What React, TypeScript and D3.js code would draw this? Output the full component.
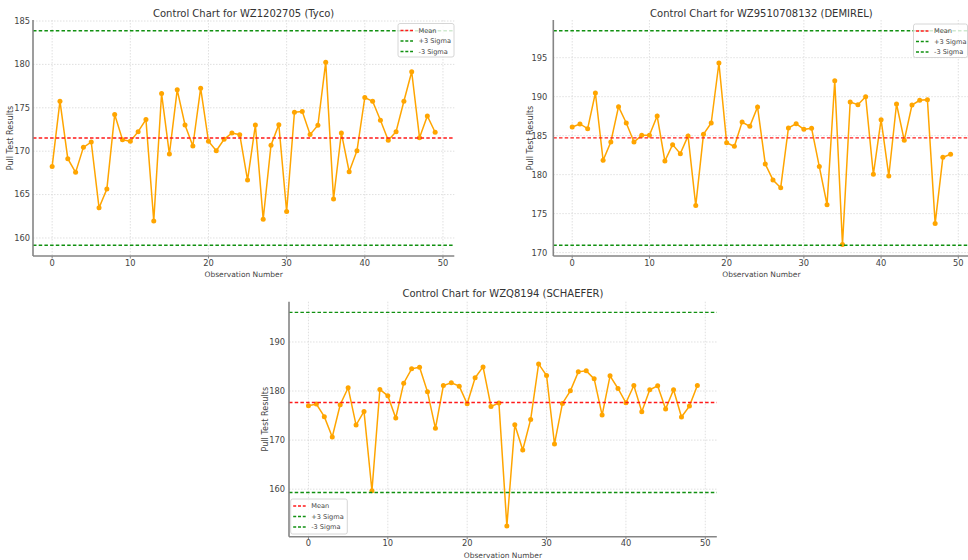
import React from "react";
import * as d3 from "d3";

const W = 968;
const H = 560;

const tycoValues = [
  168.25, 175.76, 169.14, 167.56, 170.44, 171.06, 163.48, 165.63, 174.22, 171.33,
  171.14, 172.25, 173.64, 161.97, 176.64, 169.67, 177.07, 173.02, 170.6, 177.26,
  171.14, 170.06, 171.37, 172.1, 171.9, 166.67, 173.02, 162.17, 170.68, 173.06,
  163.05, 174.49, 174.56, 171.91, 172.99, 180.26, 164.48, 172.1, 167.63, 170.06,
  176.18, 175.76, 173.56, 171.25, 172.25, 175.76, 179.15, 171.56, 174.06, 172.18,
];
const tycoLimits = [171.52, 183.88, 159.16]; // mean, +3 sigma, -3 sigma

const demirelValues = [
  186.11, 186.5, 185.9, 190.47, 181.84, 184.19, 188.72, 186.62, 184.19, 185.04,
  185.04, 187.52, 181.75, 183.85, 182.69, 184.96, 176.03, 185.17, 186.62, 194.32,
  184.1, 183.63, 186.75, 186.2, 188.68, 181.37, 179.32, 178.33, 185.98, 186.54,
  185.81, 185.94, 181.03, 176.15, 192.05, 171.03, 189.32, 188.97, 190.0, 180.04,
  187.05, 179.83, 189.06, 184.4, 188.93, 189.53, 189.62, 173.72, 182.22, 182.61,
];
const demirelLimits = [184.72, 198.46, 170.94];

const schaeferValues = [
  177.0, 177.34, 174.77, 170.64, 177.2, 180.66, 173.07, 175.85, 159.67, 180.32,
  179.03, 174.5, 181.6, 184.52, 184.85, 179.84, 172.4, 181.13, 181.67, 181.0,
  177.4, 182.69, 184.92, 176.87, 177.54, 152.49, 173.14, 168.0, 174.22, 185.53,
  183.16, 169.21, 177.47, 180.05, 183.91, 184.11, 182.48, 175.1, 183.09, 180.52,
  177.61, 181.13, 175.78, 180.25, 181.06, 176.32, 180.25, 174.7, 176.93, 181.13,
];
const schaeferLimits = [177.65, 196.03, 159.33];

const titles = [
  "Control Chart for WZ1202705 (Tyco)",
  "Control Chart for WZ9510708132 (DEMIREL)",
  "Control Chart for WZQ8194 (SCHAEFER)",
];
const xTicks = [0, 10, 20, 30, 40, 50];
const yTicksTyco = [160, 165, 170, 175, 180, 185];
const yTicksDemirel = [170, 175, 180, 185, 190, 195];
const yTicksSchaefer = [160, 170, 180, 190];
const legendLabels = ["Mean", "+3 Sigma", "-3 Sigma"];
const xLabel = "Observation Number";
const yLabel = "Pull Test Results";

const FONT = "DejaVu Sans";
const ORANGE = "#FFA500";
const RED = "#ff1a1a";
const GREEN = "#109010";

type Layout = {
  left: number; right: number; top: number; bottom: number;
  titleY: number; yLabelX: number; xTickY: number; xLabelY: number; yTickGap: number;
  legend: { x: number; y: number; w: number; h: number };
};

function Panel({ values, limits, title, yTicks, L }: { values: number[]; limits: number[]; title: string; yTicks: number[]; L: Layout }) {
  const [mean, ucl, lcl] = limits;
  const n = values.length;
  const xm = (n - 1) * 0.05;
  const x = d3.scaleLinear().domain([-xm, n - 1 + xm]).range([L.left, L.right]);
  const lo = Math.min(d3.min(values) as number, lcl);
  const hi = Math.max(d3.max(values) as number, ucl);
  const ym = (hi - lo) * 0.05;
  const y = d3.scaleLinear().domain([lo - ym, hi + ym]).range([L.bottom, L.top]);
  const line = d3.line<number>().x((_, i) => x(i)).y((v) => y(v));
  const cx = (L.left + L.right) / 2;
  const cy = (L.top + L.bottom) / 2;
  const refLines = [
    { v: mean, c: RED },
    { v: ucl, c: GREEN },
    { v: lcl, c: GREEN },
  ];
  const lg = L.legend;
  const colors = [RED, GREEN, GREEN];
  return (
    <g>
      {xTicks.map((t) => (
        <line key={"gx" + t} x1={x(t)} x2={x(t)} y1={L.top} y2={L.bottom} stroke="#d8d8d8" strokeWidth={0.8} strokeDasharray="1.5,1.5" />
      ))}
      {yTicks.map((t) => (
        <line key={"gy" + t} x1={L.left} x2={L.right} y1={y(t)} y2={y(t)} stroke="#d8d8d8" strokeWidth={0.8} strokeDasharray="1.5,1.5" />
      ))}
      <path d={line(values) as string} fill="none" stroke={ORANGE} strokeWidth={1.5} />
      {values.map((v, i) => (
        <circle key={i} cx={x(i)} cy={y(v)} r={2.5} fill={ORANGE} />
      ))}
      {refLines.map((r, i) => (
        <line key={"r" + i} x1={L.left} x2={L.right} y1={y(r.v)} y2={y(r.v)} stroke={r.c} strokeWidth={1.4} strokeDasharray="3.5,2.2" />
      ))}
      <line x1={L.left} x2={L.left} y1={L.top} y2={L.bottom} stroke="#858585" strokeWidth={1.6} />
      <line x1={L.left} x2={L.right} y1={L.bottom} y2={L.bottom} stroke="#858585" strokeWidth={1.6} />
      {xTicks.map((t) => (
        <g key={"xt" + t}>
          <line x1={x(t)} x2={x(t)} y1={L.bottom} y2={L.bottom + 2.5} stroke="#858585" strokeWidth={1} />
          <text x={x(t)} y={L.xTickY} textAnchor="middle" fontFamily={FONT} fontSize={8.3} fill="#444">{t}</text>
        </g>
      ))}
      {yTicks.map((t) => (
        <text key={"yt" + t} x={L.left - L.yTickGap} y={y(t)} dy="0.35em" textAnchor="end" fontFamily={FONT} fontSize={8.3} fill="#444">{t}</text>
      ))}
      <text x={cx} y={L.titleY} textAnchor="middle" fontFamily={FONT} fontSize={10} fill="#333">{title}</text>
      <text x={cx} y={L.xLabelY} textAnchor="middle" fontFamily={FONT} fontSize={7.5} fill="#444">{xLabel}</text>
      <text transform={`translate(${L.yLabelX},${cy}) rotate(-90)`} textAnchor="middle" dy="0.35em" fontFamily={FONT} fontSize={8.1} fill="#444">{yLabel}</text>
      <rect x={lg.x} y={lg.y} width={lg.w} height={lg.h} rx={2} fill="white" fillOpacity={0.8} stroke="#cccccc" strokeWidth={0.8} />
      {legendLabels.map((lab, i) => {
        const ey = lg.y + 7 + i * 10.5;
        return (
          <g key={lab}>
            <line x1={lg.x + 2.5} x2={lg.x + 15} y1={ey} y2={ey} stroke={colors[i]} strokeWidth={1.3} strokeDasharray="3,1.8" />
            <text x={lg.x + 20.5} y={ey} dy="0.35em" fontFamily={FONT} fontSize={6.6} fill="#444">{lab}</text>
          </g>
        );
      })}
    </g>
  );
}

const L1: Layout = { left: 33, right: 454.3, top: 20, bottom: 256, titleY: 16.5, yLabelX: 9.7, xTickY: 265.5, xLabelY: 276.5, yTickGap: 3, legend: { x: 398, y: 23.5, w: 56, h: 33.5 } };
const L2: Layout = { left: 553.3, right: 969.5, top: 20, bottom: 256, titleY: 16.5, yLabelX: 530.3, xTickY: 265.5, xLabelY: 276.5, yTickGap: 6, legend: { x: 913.5, y: 24, w: 54, h: 33.5 } };
const L3: Layout = { left: 289, right: 716.8, top: 301.7, bottom: 536.7, titleY: 297.3, yLabelX: 265, xTickY: 546, xLabelY: 557.5, yTickGap: 4, legend: { x: 290.7, y: 499, w: 56.6, h: 35 } };

export default function App() {
  return (
    <svg width={W} height={H} style={{ position: "absolute", left: 0, top: 0, background: "white" }}>
      <rect width={W} height={H} fill="white" />
      <Panel values={tycoValues} limits={tycoLimits} title={titles[0]} yTicks={yTicksTyco} L={L1} />
      <Panel values={demirelValues} limits={demirelLimits} title={titles[1]} yTicks={yTicksDemirel} L={L2} />
      <Panel values={schaeferValues} limits={schaeferLimits} title={titles[2]} yTicks={yTicksSchaefer} L={L3} />
    </svg>
  );
}
